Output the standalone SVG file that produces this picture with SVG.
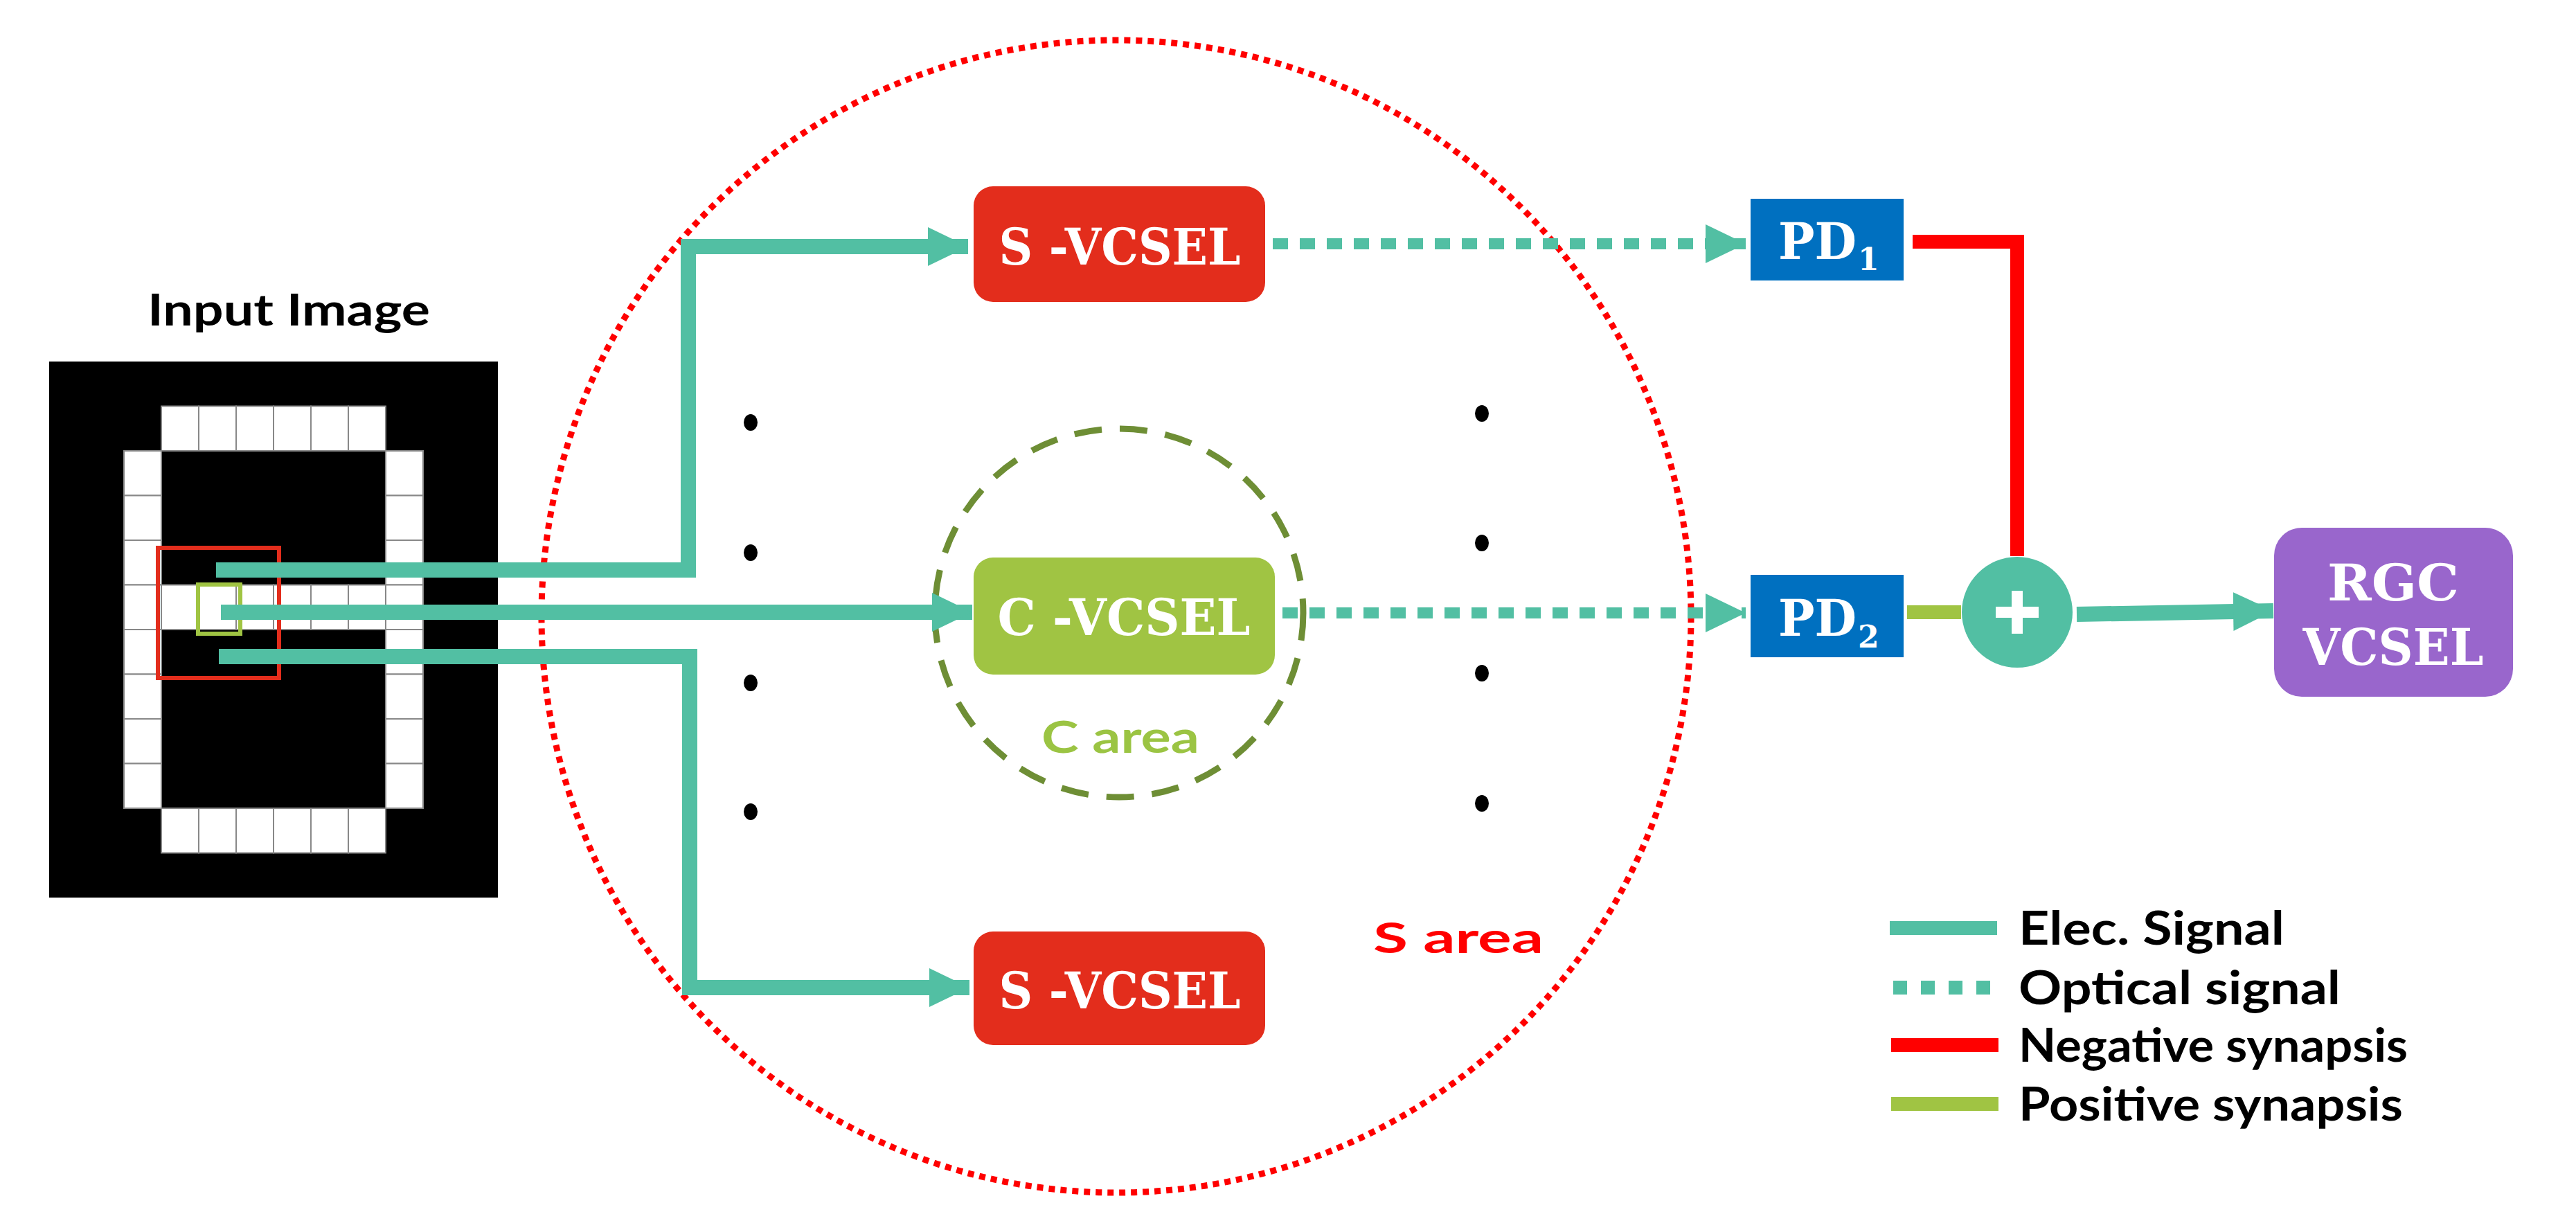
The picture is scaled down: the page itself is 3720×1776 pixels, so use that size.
<svg xmlns="http://www.w3.org/2000/svg" width="3720" height="1776" viewBox="0 0 3720 1776">
<style>
.lbl{font-family:"DejaVu Serif","Liberation Serif",serif;font-weight:bold;fill:#fff}
.sans{font-family:"Lato","Liberation Sans",sans-serif;font-weight:bold}
.elec{fill:none;stroke:#52BFA3;stroke-width:22}
.opt{fill:none;stroke:#52BFA3;stroke-width:16;stroke-dasharray:22 17}
.cell{fill:#fff;stroke:#888;stroke-width:2}
</style>
<defs>
<marker id="ah" markerUnits="userSpaceOnUse" markerWidth="60" markerHeight="60" refX="58" refY="30" orient="auto" viewBox="0 0 60 60">
<path d="M0,2 L58,30 L0,58 Z" fill="#52BFA3"/>
</marker>
</defs>
<rect width="3720" height="1776" fill="#fff"/>

<g id="input-image">
<text x="417" y="470" class="sans" font-size="64" text-anchor="middle" textLength="408" lengthAdjust="spacingAndGlyphs">Input Image</text>
<rect x="71" y="522" width="648" height="774" fill="#000"/>
<g id="cells">
<rect class="cell" x="233" y="586.5" width="54" height="64.5"/><rect class="cell" x="287" y="586.5" width="54" height="64.5"/><rect class="cell" x="341" y="586.5" width="54" height="64.5"/><rect class="cell" x="395" y="586.5" width="54" height="64.5"/><rect class="cell" x="449" y="586.5" width="54" height="64.5"/><rect class="cell" x="503" y="586.5" width="54" height="64.5"/>
<rect class="cell" x="233" y="1167" width="54" height="64.5"/><rect class="cell" x="287" y="1167" width="54" height="64.5"/><rect class="cell" x="341" y="1167" width="54" height="64.5"/><rect class="cell" x="395" y="1167" width="54" height="64.5"/><rect class="cell" x="449" y="1167" width="54" height="64.5"/><rect class="cell" x="503" y="1167" width="54" height="64.5"/>
<rect class="cell" x="233" y="844.5" width="54" height="64.5"/><rect class="cell" x="287" y="844.5" width="54" height="64.5"/><rect class="cell" x="341" y="844.5" width="54" height="64.5"/><rect class="cell" x="395" y="844.5" width="54" height="64.5"/><rect class="cell" x="449" y="844.5" width="54" height="64.5"/><rect class="cell" x="503" y="844.5" width="54" height="64.5"/>
<rect class="cell" x="179" y="651" width="54" height="64.5"/><rect class="cell" x="179" y="715.5" width="54" height="64.5"/><rect class="cell" x="179" y="780" width="54" height="64.5"/><rect class="cell" x="179" y="844.5" width="54" height="64.5"/><rect class="cell" x="179" y="909" width="54" height="64.5"/><rect class="cell" x="179" y="973.5" width="54" height="64.5"/><rect class="cell" x="179" y="1038" width="54" height="64.5"/><rect class="cell" x="179" y="1102.5" width="54" height="64.5"/>
<rect class="cell" x="557" y="651" width="54" height="64.5"/><rect class="cell" x="557" y="715.5" width="54" height="64.5"/><rect class="cell" x="557" y="780" width="54" height="64.5"/><rect class="cell" x="557" y="844.5" width="54" height="64.5"/><rect class="cell" x="557" y="909" width="54" height="64.5"/><rect class="cell" x="557" y="973.5" width="54" height="64.5"/><rect class="cell" x="557" y="1038" width="54" height="64.5"/><rect class="cell" x="557" y="1102.5" width="54" height="64.5"/>
</g>
<rect x="228" y="791" width="175" height="188" fill="none" stroke="#E32D1C" stroke-width="6"/>
<rect x="286" y="844" width="61" height="71" fill="none" stroke="#A0C443" stroke-width="6"/>
</g>

<g id="s-area">
<ellipse cx="1612" cy="890" rx="830" ry="832" fill="none" stroke="#FF0000" stroke-width="9" stroke-dasharray="9 8"/>
<text x="2106" y="1376" class="sans" font-size="62" fill="#FF0000" text-anchor="middle" textLength="246" lengthAdjust="spacingAndGlyphs">S area</text>
</g>
<g id="c-area">
<circle cx="1616" cy="885" r="266" fill="none" stroke="#6E8E35" stroke-width="9" stroke-dasharray="40 26"/>
<text x="1618" y="1087" class="sans" font-size="64" fill="#9BC443" text-anchor="middle" textLength="228" lengthAdjust="spacingAndGlyphs">C area</text>
</g>

<g id="dots" fill="#000">
<ellipse cx="1084" cy="610" rx="10" ry="12"/><ellipse cx="1084" cy="798" rx="10" ry="12"/><ellipse cx="1084" cy="986" rx="10" ry="12"/><ellipse cx="1084" cy="1172" rx="10" ry="12"/>
<ellipse cx="2140" cy="597" rx="10" ry="12"/><ellipse cx="2140" cy="784" rx="10" ry="12"/><ellipse cx="2140" cy="972" rx="10" ry="12"/><ellipse cx="2140" cy="1160" rx="10" ry="12"/>
</g>

<g id="connectors">
<path class="elec" d="M312,823 H994 V356 H1398" marker-end="url(#ah)"/>
<path class="elec" d="M319,884 H1404" marker-end="url(#ah)"/>
<path class="elec" d="M316,948 H996 V1426 H1400" marker-end="url(#ah)"/>
<path class="opt" d="M1838,352 H2521" marker-end="url(#ah)"/>
<path class="opt" d="M1852,885 H2521" marker-end="url(#ah)"/>
<path d="M2762,349 H2913 V803" fill="none" stroke="#FF0000" stroke-width="20"/>
<path d="M2754,884 H2832" fill="none" stroke="#A0C443" stroke-width="20"/>
<path class="elec" d="M2999,887 L3283,882" marker-end="url(#ah)"/>
</g>

<g id="s-vcsel-top">
<rect x="1406" y="269" width="421" height="167" rx="28" fill="#E32D1C"/>
<text x="1617" y="382" class="lbl" font-size="72" text-anchor="middle" textLength="349" lengthAdjust="spacingAndGlyphs">S -VCSEL</text>
</g>
<g id="c-vcsel">
<rect x="1406" y="805" width="435" height="169" rx="28" fill="#A0C443"/>
<text x="1623" y="917" class="lbl" font-size="72" text-anchor="middle" textLength="365" lengthAdjust="spacingAndGlyphs">C -VCSEL</text>
</g>
<g id="s-vcsel-bottom">
<rect x="1406" y="1345" width="421" height="164" rx="28" fill="#E32D1C"/>
<text x="1617" y="1456" class="lbl" font-size="72" text-anchor="middle" textLength="349" lengthAdjust="spacingAndGlyphs">S -VCSEL</text>
</g>
<g id="pd1">
<rect x="2528" y="287" width="221" height="118" fill="#0070C0"/>
<text x="2568" y="374" class="lbl" font-size="72" textLength="113" lengthAdjust="spacingAndGlyphs">PD</text>
<text x="2683" y="390" class="lbl" font-size="44">1</text>
</g>
<g id="pd2">
<rect x="2528" y="830" width="221" height="119" fill="#0070C0"/>
<text x="2568" y="918" class="lbl" font-size="72" textLength="113" lengthAdjust="spacingAndGlyphs">PD</text>
<text x="2683" y="935" class="lbl" font-size="44">2</text>
</g>
<g id="sum">
<circle cx="2913" cy="884" r="80" fill="#52BFA3"/>
<path d="M2882,884 H2944 M2913,853 V915" stroke="#fff" stroke-width="16"/>
</g>
<g id="rgc-vcsel">
<rect x="3284" y="762" width="345" height="244" rx="40" fill="#9966CC"/>
<text x="3456" y="867" class="lbl" font-size="72" text-anchor="middle" textLength="190" lengthAdjust="spacingAndGlyphs">RGC</text>
<text x="3456" y="960" class="lbl" font-size="72" text-anchor="middle" textLength="261" lengthAdjust="spacingAndGlyphs">VCSEL</text>
</g>

<g id="legend">
<line x1="2729" y1="1340" x2="2884" y2="1340" stroke="#52BFA3" stroke-width="20"/>
<line x1="2734" y1="1426" x2="2874" y2="1426" stroke="#52BFA3" stroke-width="20" stroke-dasharray="20 20"/>
<line x1="2731" y1="1509" x2="2886" y2="1509" stroke="#FF0000" stroke-width="20"/>
<line x1="2731" y1="1594" x2="2886" y2="1594" stroke="#A0C443" stroke-width="20"/>
<text x="2915" y="1364" class="sans" font-size="66" textLength="384" lengthAdjust="spacingAndGlyphs">Elec. Signal</text>
<text x="2915" y="1450" class="sans" font-size="66" textLength="465" lengthAdjust="spacingAndGlyphs">Optical signal</text>
<text x="2915" y="1533" class="sans" font-size="66" textLength="562" lengthAdjust="spacingAndGlyphs">Negative synapsis</text>
<text x="2915" y="1618" class="sans" font-size="66" textLength="555" lengthAdjust="spacingAndGlyphs">Positive synapsis</text>
</g>
</svg>
